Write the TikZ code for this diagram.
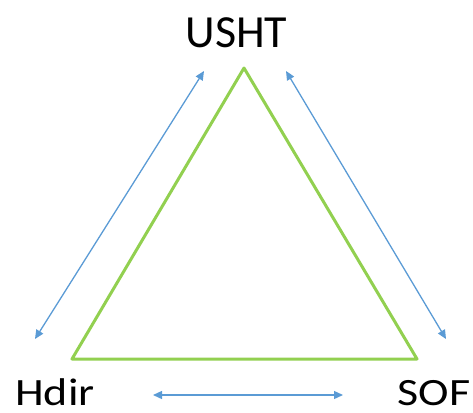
\documentclass[tikz,border=0pt]{standalone}
\usepackage{fontspec}
\setmainfont{Carlito}
\usetikzlibrary{arrows.meta}
\definecolor{triGreen}{HTML}{92D050}
\definecolor{arrBlue}{HTML}{5B9BD5}
\newcommand{\flatlbl}[1]{\scalebox{1}[0.84]{#1}}
\tikzset{
  lbl/.style={font=\fontsize{46}{50}\selectfont, inner sep=0pt, anchor=base},
  link/.style={<->, draw=arrBlue, line width=1.3pt}
}
\begin{document}
\begin{tikzpicture}[x=1pt,y=-1pt, line join=round, >={Triangle[length=9pt,width=8pt]}]
    \useasboundingbox (0,0) rectangle (473,412);
    % labels
    \node[lbl] (usht) at (236.5,48) {USHT};
    \node[lbl] (hdir) at (55,405) {\flatlbl{Hdir}};
    \node[lbl] (sof) at (434,405) {\flatlbl{SOF}};
    % triangle
    \coordinate (top) at (244,68);
    \coordinate (bl) at (72,359);
    \coordinate (br) at (417,359);
    \draw[triGreen, line width=3pt] (top) -- (bl) -- (br) -- cycle;
    % arrow ends
    \coordinate (l1) at (204,71);
    \coordinate (l2) at (35,339);
    \coordinate (r1) at (286,71);
    \coordinate (r2) at (446,339);
    \coordinate (b1) at (153,395);
    \coordinate (b2) at (343,395);
    \draw[link] (l1) -- (l2);
    \draw[link] (r1) -- (r2);
    \draw[link] (b1) -- (b2);
\end{tikzpicture}
\end{document}
